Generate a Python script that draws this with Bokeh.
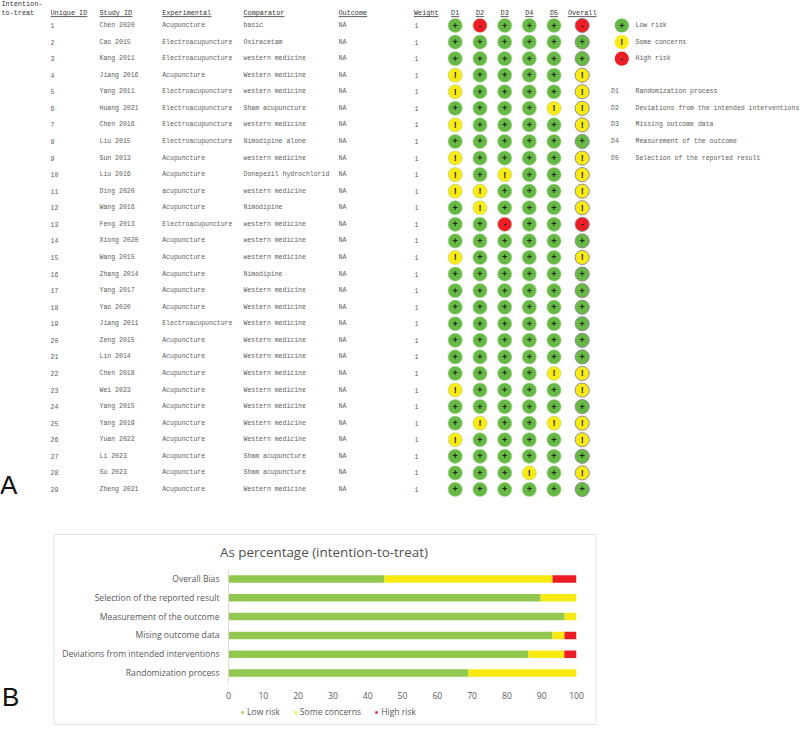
from bokeh.plotting import figure
from bokeh.layouts import column
from bokeh.models import ColumnDataSource, Range1d, Legend, LegendItem, FactorRange
from bokeh.core.properties import value
from bokeh.embed import file_html
from bokeh.resources import INLINE

unique_id = list(range(1, 30))
study = ["Chen 2020","Cao 2015","Kang 2011","Jiang 2016","Yang 2011","Huang 2021","Chen 2016","Liu 2015","Sun 2013","Liu 2016",
         "Ding 2020","Wang 2016","Feng 2013","Xiong 2020","Wang 2015","Zhang 2014","Yang 2017","Yao 2020","Jiang 2011","Zeng 2015",
         "Lin 2014","Chen 2018","Wei 2023","Yang 2015","Yang 2019","Yuan 2022","Li 2023","Su 2023","Zheng 2021"]
A = "Acupuncture"; E = "Electroacupuncture"; W = "Western medicine"; w = "western medicine"; S = "Sham acupuncture"
experimental = [A,E,E,A,E,E,E,E,A,A,"acupuncture",A,E,A,A,A,A,A,E,A,A,A,A,A,A,A,A,A,A]
comparator = ["basic","Oxiracetam",w,W,w,S,w,"Nimodipine alone",w,"Donepezil hydrochlorid",w,"Nimodipine",w,w,w,"Nimodipine",
              W,W,W,W,W,W,W,W,W,W,S,S,W]
outcome = ["NA"] * 29
weight = ["1"] * 29
D1 = list("+++!!+!+!!!" "+++" "!" "+++++++" "!" "++" "!" "+++")
D2 = list("-+++++++++!!++++++++++++!++++")
D3 = list("+++++++++!++-++++++++++++++++")
D4 = list("+++++++++++++++++++++++++++!+")
D5 = list("+++++!+++++++++++++++!++!++++")
overall = list("-++!!!!+!!!!-+!++++++!!+!!+!+")
domains = {"D1": D1, "D2": D2, "D3": D3, "D4": D4, "D5": D5, "Overall": overall}
domain_names = ["Randomization process","Deviations from the intended interventions","Missing outcome data",
                "Measurement of the outcome","Selection of the reported result"]
key_labels = ["Low risk","Some concerns","High risk"]
key_marks = ["+","!","-"]

bar_cats = ["Randomization process","Deviations from intended interventions","Mising outcome data",
            "Measurement of the outcome","Selection of the reported result","Overall Bias"]
low = [69.0, 86.2, 93.1, 96.6, 89.7, 44.8]
some = [31.0, 10.3, 3.45, 3.4, 10.3, 48.3]
high = [0.0, 3.5, 3.45, 0.0, 0.0, 6.9]

GREEN, YELLOW, RED = "#66b944", "#fbeb14", "#ee1c25"
BAR_COLORS = ["#92c850", "#f8ea10", "#ee1c25"]
FILL = {"+": GREEN, "!": YELLOW, "-": RED}
TXT = "#5c5c5c"; HEAD = "#333333"
MONO = value("Liberation Mono")
SANS = value("Liberation Sans")

top = figure(width=800, height=730, output_backend="svg", toolbar_location=None, frame_align=False,
             x_range=Range1d(0, 800), y_range=Range1d(730, 0), min_border=0, outline_line_color=None)
top.axis.visible = False
top.grid.visible = False

ROW0, DY = 25.0, 16.57
row_y = [ROW0 + DY * i for i in range(29)]
def tx(x, y, t, size="6.5px", color=TXT, align="left"):
    top.text(x=x, y=y, text=t, text_font=MONO, text_font_size=size, text_color=color,
             text_align=align, text_baseline="middle")

col_text = [(50, [str(i) for i in unique_id]), (99, study), (161.7, experimental), (243, comparator), (338, outcome), (414, weight)]
for x, vals in col_text:
    tx([x] * 29, row_y, vals)

HY = 12.3
heads = [(50, "Unique ID"), (99, "Study ID"), (161.7, "Experimental"), (243, "Comparator"), (338, "Outcome"), (413.5, "Weight")]
CW = 4.1
for x, t in heads:
    tx([x], [HY], [t], size="6.8px", color=HEAD)
    top.segment([x], [HY + 3.8], [x + CW * len(t)], [HY + 3.8], line_color=HEAD, line_width=0.8)
tx([1], [3.2], ["Intention-"], size="6.8px", color=HEAD)
tx([1], [12.3], ["to-treat"], size="6.8px", color=HEAD)

col_x = [454.7, 479.5, 504.2, 528.8, 553.5, 581.7]
for x, (name, marks) in zip(col_x, domains.items()):
    tx([x], [HY], [name], size="6.8px", color=HEAD, align="center")
    hw = CW * len(name) / 2
    top.segment([x - hw], [HY + 3.8], [x + hw], [HY + 3.8], line_color=HEAD, line_width=0.8)
    is_overall = name == "Overall"
    src = ColumnDataSource(dict(x=[x] * 29, y=row_y, c=[FILL[m] for m in marks], m=marks))
    top.scatter("x", "y", source=src, size=14.2, fill_color="c",
                line_color="#8f8f8f" if is_overall else "#a9d698", line_width=1.0 if is_overall else 0.6)
    top.text("x", "y", text="m", source=src, text_font=SANS, text_font_size="9px",
             text_font_style="bold", text_color="#222222", text_align="center", text_baseline="middle")

key_y = [row_y[i] for i in range(3)]
ksrc = ColumnDataSource(dict(x=[621.3] * 3, y=key_y, c=[FILL[m] for m in key_marks], m=key_marks))
top.scatter("x", "y", source=ksrc, size=14.2, fill_color="c", line_color=None)
top.text("x", "y", text="m", source=ksrc, text_font=SANS, text_font_size="9px",
         text_font_style="bold", text_color="#222222", text_align="center", text_baseline="middle")
tx([635] * 3, key_y, key_labels)
dn_y = [row_y[i] for i in range(4, 9)]
tx([610.5] * 5, dn_y, ["D1", "D2", "D3", "D4", "D5"])
tx([635] * 5, dn_y, domain_names)
top.text(x=[-0.5], y=[484.5], text=["A"], text_font=SANS, text_font_size="26px",
         text_color="#111111", text_baseline="middle")
top.text(x=[1.5], y=[696.5], text=["B"], text_font=SANS, text_font_size="26px",
         text_color="#111111", text_baseline="middle")
top.quad(left=[53.5], right=[595.5], top=[534], bottom=[724], fill_color=None, line_color="#e2e2e2", line_width=1)

# The legend of the bar chart lies below its frame, so it lives on the page-wide figure.
# Its renderers sit off the page: only their legend swatches are meant to show.
leg_rs = [top.scatter(x=[-100], y=[-100], marker="square", size=5, fill_color=c, line_color=None) for c in BAR_COLORS]
leg = Legend(items=[LegendItem(label=l, renderers=[r]) for l, r in zip(key_labels, leg_rs)],
             orientation="horizontal", location=(239, 12), border_line_color=None, background_fill_alpha=0,
             label_text_font="Open Sans", label_text_font_size="8.6px", label_text_color="#595959",
             glyph_width=6, glyph_height=6, spacing=12, label_standoff=2, padding=0, margin=0)
top.add_layout(leg, "center")

BX, BY, BW, BH = 54, 530, 541, 173
FL, FR, FT, FB = 227.5, 575.5, 568.6, 681.4
bot = figure(width=BW, height=BH, output_backend="svg", toolbar_location=None, frame_align=False,
             x_range=Range1d(0, 100), y_range=FactorRange(*bar_cats, factor_padding=0, range_padding=0, group_padding=0),
             frame_width=round(FR - FL), frame_height=round(FB - FT),
             min_border_left=round(FL - BX), min_border_right=round(BX + BW - FR),
             min_border_top=round(FT - BY), min_border_bottom=round(BY + BH - FB), outline_line_color=None,
             border_fill_color=None, background_fill_color=None,
             margin=(BY - 730, 0, 0, BX))
bot.grid.visible = False
bot.hbar_stack(["low", "some", "high"], y="cat", height=0.4,
               source=ColumnDataSource(dict(cat=bar_cats, low=low, some=some, high=high)),
               color=BAR_COLORS, line_color=None)
bot.xaxis.ticker = list(range(0, 101, 10))
bot.xaxis.axis_line_color = None
bot.xaxis.major_tick_line_color = None
bot.xaxis.minor_tick_line_color = None
bot.yaxis.axis_line_color = "#d9d9d9"
bot.yaxis.major_tick_line_color = None
bot.yaxis.minor_tick_line_color = None
for ax in (bot.xaxis[0], bot.yaxis[0]):
    ax.major_label_text_font = "Open Sans"
    ax.major_label_text_font_size = "8.6px"
    ax.major_label_text_color = "#595959"
bot.yaxis.major_label_standoff = 3
bot.xaxis.major_label_standoff = 3
bot.title.text = "As percentage (intention-to-treat)"
bot.title.text_font = "Open Sans"
bot.title.text_font_size = "13.4px"
bot.title.text_font_style = "normal"
bot.title.text_color = "#505050"
bot.title.align = "left"
bot.title.offset = -8.5
bot.title.standoff = 17

page = column(top, bot, spacing=0)
open("out.html", "w").write(file_html(page, INLINE))
